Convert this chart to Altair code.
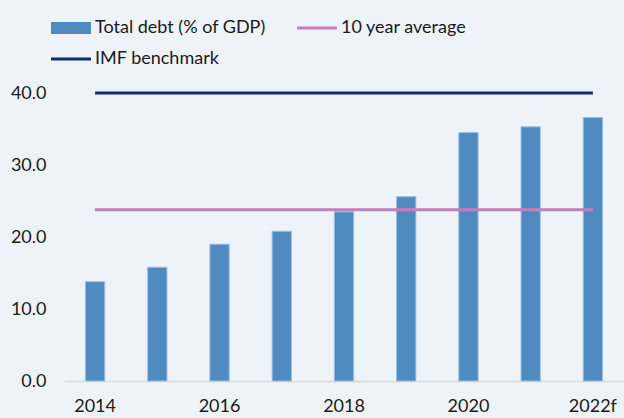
import altair as alt
import pandas as pd

years = ["2014", "2015", "2016", "2017", "2018", "2019", "2020", "2021", "2022f"]
debt = [13.8, 15.8, 19.0, 20.8, 23.5, 25.6, 34.5, 35.3, 36.6]
avg_value = 23.8
imf_value = 40.0
shown_labels = ["2014", "2016", "2018", "2020", "2022f"]
series = ["Total debt (% of GDP)", "IMF benchmark", "10 year average"]
colors = ["#4F8BC1", "#0D2D6C", "#C37EBB"]

bars_df = pd.DataFrame({"year": years, "value": debt, "series": series[0]})
lines_df = pd.DataFrame({
    "year": [years[0], years[-1], years[0], years[-1]],
    "value": [imf_value, imf_value, avg_value, avg_value],
    "series": [series[1], series[1], series[2], series[2]],
})
legend_df = pd.DataFrame({
    "year": [years[0]] * 3,
    "value": [debt[0], imf_value, avg_value],
    "series": series,
})

FONT = "Lato"
bar_path = "M-2,-0.6H2V0.6H-2Z"
line_path = "M-2,-0.15H2V0.15H-2Z"

x_enc = alt.X(
    "year:N",
    scale=alt.Scale(domain=years, paddingInner=0.69, paddingOuter=0.345),
    axis=alt.Axis(
        title=None,
        labelAngle=0,
        ticks=False,
        labelExpr="indexof(" + str(shown_labels) + ", datum.value) >= 0 ? datum.value : ''",
        domainColor="#D9D9D9",
        domainWidth=1.5,
        labelPadding=16,
        labelFontSize=18,
        labelFont=FONT,
        labelColor="#1A1A1A",
    ),
)
y_enc = alt.Y(
    "value:Q",
    scale=alt.Scale(domain=[0, 40], nice=False),
    axis=alt.Axis(
        title=None,
        values=[0, 10, 20, 30, 40],
        format=".1f",
        grid=False,
        ticks=False,
        domain=False,
        labelPadding=18,
        labelFontSize=18,
        labelFont=FONT,
        labelColor="#1A1A1A",
    ),
)


def make_legend():
    return alt.Legend(
        title=None,
        orient="none",
        legendX=-3,
        legendY=-75,
        columns=2,
        columnPadding=31,
        rowPadding=12,
        padding=0,
        symbolSize=400,
        symbolOpacity=1,
        symbolStrokeWidth=0,
        labelOffset=14,
        labelFontSize=18,
        labelFont=FONT,
        labelColor="#1A1A1A",
        labelLimit=400,
    )


color_scale = alt.Scale(domain=series, range=colors)
color_enc = alt.Color("series:N", scale=color_scale, legend=make_legend())
shape_enc = alt.Shape(
    "series:N",
    scale=alt.Scale(domain=series, range=[bar_path, line_path, line_path]),
    legend=make_legend(),
)

bars = alt.Chart(bars_df).mark_bar(stroke="#9CBEE0", strokeWidth=1).encode(
    x=x_enc, y=y_enc, color=color_enc
)
lines = alt.Chart(lines_df).mark_line(strokeWidth=3).encode(
    x=x_enc, y=y_enc, color=color_enc, detail="series:N"
)
keys = alt.Chart(legend_df).mark_point(filled=True, opacity=0, size=400).encode(
    x=x_enc, y=y_enc, color=color_enc, shape=shape_enc
)

chart = (
    alt.layer(keys, bars, lines)
    .properties(
        width=560,
        height=288,
        autosize=alt.AutoSizeParams(type="none"),
        padding={"left": 64, "top": 93, "right": 0, "bottom": 37},
        background="#EEF3FA",
    )
    .configure_view(stroke=None)
)

chart.save("out.html", embed_options={"renderer": "svg", "actions": False})
